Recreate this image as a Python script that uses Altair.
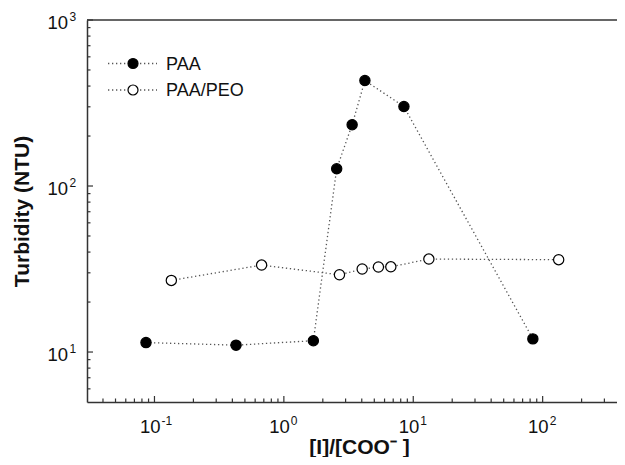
import altair as alt
import pandas as pd

# ---- data ----
series_names = ["PAA", "PAA/PEO"]
paa_ratio = [0.086, 0.427, 1.69, 2.56, 3.37, 4.23, 8.47, 84.0]
paa_turb = [11.4, 11.0, 11.7, 127.0, 234.0, 432.0, 301.0, 12.0]
peo_ratio = [0.135, 0.673, 2.69, 4.03, 5.38, 6.71, 13.2, 133.0]
peo_turb = [27.0, 33.4, 29.2, 31.6, 32.5, 32.6, 36.3, 36.0]

x_major = [0.1, 1, 10, 100]
x_exp = ["-1", "0", "1", "2"]
x_minor = [0.04, 0.05, 0.06, 0.07, 0.08, 0.09,
           0.2, 0.3, 0.4, 0.5, 0.6, 0.7, 0.8, 0.9,
           2, 3, 4, 5, 6, 7, 8, 9,
           20, 30, 40, 50, 60, 70, 80, 90,
           200, 300]
y_major = [10, 100, 1000]
y_exp = ["1", "2", "3"]
y_minor = [6, 7, 8, 9,
           20, 30, 40, 50, 60, 70, 80, 90,
           200, 300, 400, 500, 600, 700, 800, 900]

W, H = 530, 382
FONT = "Liberation Sans, Arial, sans-serif"
INK = "#111111"
AX = "#333333"

df = pd.concat([
    pd.DataFrame({"series": series_names[0], "ratio": paa_ratio, "turb": paa_turb}),
    pd.DataFrame({"series": series_names[1], "ratio": peo_ratio, "turb": peo_turb}),
], ignore_index=True)

xs = alt.Scale(type="log", domain=[0.0301, 375.5], nice=False)
ys = alt.Scale(type="log", domain=[5, 1000], nice=False)
fill_scale = alt.Scale(domain=series_names, range=["black", "white"])

xaxis = alt.Axis(labels=False, ticks=False, grid=False, domainColor=AX, domainWidth=1.5,
                 title="[I]/[COO\u207b ]", titleFont=FONT, titleFontSize=21,
                 titleFontWeight="bold", titleColor=INK, titleX=272, titleY=51,
                 titleAlign="center", titleBaseline="alphabetic")
yaxis = alt.Axis(labels=False, ticks=False, grid=False, domainColor=AX, domainWidth=1.5,
                 title="Turbidity (NTU)", titleFont=FONT, titleFontSize=21,
                 titleFontWeight="bold", titleColor=INK, titleX=-59, titleY=H / 2,
                 titleAngle=270, titleAlign="center", titleBaseline="alphabetic")


def X(field):
    return alt.X(field, type="quantitative", scale=xs, axis=xaxis)


def Y(field):
    return alt.Y(field, type="quantitative", scale=ys, axis=yaxis)


lines = alt.Chart(df).mark_line(color="#555555", strokeWidth=1.3, strokeDash=[1.3, 2.7]).encode(
    x=X("ratio"), y=Y("turb"), detail="series:N", order="ratio:Q")

points = alt.Chart(df).mark_circle(size=105, stroke="black", strokeWidth=1.2, opacity=1).encode(
    x=X("ratio"), y=Y("turb"), fill=alt.Fill("series:N", scale=fill_scale, legend=None))

xmaj = pd.DataFrame({"v": x_major, "e": x_exp})
ymaj = pd.DataFrame({"v": y_major, "e": y_exp})

xt_major = alt.Chart(xmaj).mark_rule(color=AX, strokeWidth=1.2).encode(
    x=X("v"), y=alt.value(H), y2=alt.value(H - 6))
xt_minor = alt.Chart(pd.DataFrame({"v": x_minor})).mark_rule(color=AX, strokeWidth=1.2).encode(
    x=X("v"), y=alt.value(H), y2=alt.value(H - 3.5))
yt_major = alt.Chart(ymaj).mark_rule(color=AX, strokeWidth=1.2).encode(
    y=Y("v"), x=alt.value(0), x2=alt.value(6))
yt_minor = alt.Chart(pd.DataFrame({"v": y_minor})).mark_rule(color=AX, strokeWidth=1.2).encode(
    y=Y("v"), x=alt.value(0), x2=alt.value(3.5))

xl_base = alt.Chart(xmaj).mark_text(text="10", font=FONT, fontSize=18.5, color=INK, align="right",
                                    baseline="alphabetic", dx=6).encode(
    x=X("v"), y=alt.value(H + 30.6))
xl_exp = alt.Chart(xmaj).mark_text(font=FONT, fontSize=12, color=INK, align="left",
                                   baseline="alphabetic", dx=7).encode(
    x=X("v"), y=alt.value(H + 23.2), text="e:N")
yl_base = alt.Chart(ymaj).mark_text(text="10", font=FONT, fontSize=18.5, color=INK, align="right",
                                    baseline="alphabetic", dy=8.5).encode(
    y=Y("v"), x=alt.value(-19))
yl_exp = alt.Chart(ymaj).mark_text(font=FONT, fontSize=12, color=INK, align="left",
                                   baseline="alphabetic", dy=1.2).encode(
    y=Y("v"), x=alt.value(-17.4), text="e:N")

top_border = alt.Chart(pd.DataFrame({"a": [0]})).mark_rule(color=AX, strokeWidth=1.5).encode(
    x=alt.value(0), x2=alt.value(W), y=alt.value(0))

legend_layers = []
for i, name in enumerate(series_names):
    yy = 43.5 + 26.5 * i
    ld = pd.DataFrame({"s": [name]})
    legend_layers.append(alt.Chart(ld).mark_rule(color="#555555", strokeWidth=1.3,
                                                 strokeDash=[1.3, 2.7]).encode(
        x=alt.value(21), x2=alt.value(70), y=alt.value(yy)))
    legend_layers.append(alt.Chart(ld).mark_circle(size=100, stroke="black", strokeWidth=1.2,
                                                   opacity=1).encode(
        x=alt.value(46), y=alt.value(yy),
        fill=alt.Fill("s:N", scale=fill_scale, legend=None)))
    legend_layers.append(alt.Chart(ld).mark_text(font=FONT, fontSize=18, color=INK, align="left",
                                                 baseline="middle").encode(
        x=alt.value(79), y=alt.value(yy + 1), text="s:N"))

chart = alt.layer(
    lines, xt_minor, xt_major, yt_minor, yt_major, top_border,
    xl_base, xl_exp, yl_base, yl_exp, points, *legend_layers
).properties(
    width=W, height=H,
    padding={"left": 79, "top": 12, "right": 0, "bottom": 55},
    autosize=alt.AutoSizeParams(type="none"),
    background="white",
).configure_view(stroke=None)

chart.save("out.html", embed_options={"renderer": "svg", "actions": False})
